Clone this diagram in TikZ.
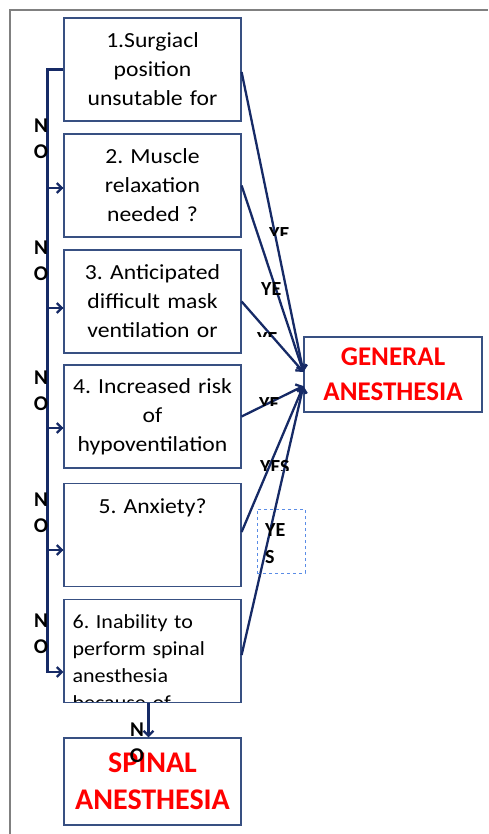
\documentclass[tikz,border=0pt]{standalone}
\usepackage{fontspec}
\setmainfont{Carlito}
\newfontfamily\boxfont[FakeStretch=1.1]{Carlito}
\usetikzlibrary{arrows.meta}

\definecolor{boxline}{RGB}{56,80,130}
\definecolor{linknavy}{RGB}{22,42,102}
\definecolor{framegray}{RGB}{128,128,128}
\definecolor{tagblue}{RGB}{90,140,230}

\tikzset{
    nolink/.style={to path={-- ++(-16,0) |- (\tikztotarget)}},
    notag/.style={font=\bfseries\fontsize{21}{26}\selectfont,align=center,inner sep=0pt},
    yestag/.style={font=\bfseries\fontsize{20}{27}\selectfont,align=left,inner sep=0pt,anchor=north west},
    >={Straight Barb[length=5pt,width=10pt]}
}
\frenchspacing

\begin{document}
\begin{tikzpicture}[x=1pt,y=-1pt]
    \useasboundingbox (0,0) rectangle (488,834);
    \draw[framegray,line width=1.3pt] (10,834) -- (10,10) -- (488,10);

        \begin{scope}[every node/.style={draw=boxline,line width=1.2pt,minimum width=177pt,minimum height=103pt,text width=170pt,align=center,inner sep=0pt,font=\boxfont\fontsize{21.5}{29}\selectfont}]
            \node (1) at (152.5,69.5) {1.Surgiacl\\position\\unsutable for};
            \node (2) at (152.5,185.5) {2. Muscle\\relaxation\\needed ?};
            \node (3) at (152.5,301.5) {3. Anticipated\\difficult mask\\ventilation or};
            \node (4) at (152.5,416.5) {4. Increased risk\\of\\hypoventilation};
            \node (5) at (152.5,535) {5. Anxiety?\\\mbox{}\\\mbox{}};
            \node (6) at (152.5,651) {};
            \node (sa) [minimum height=87pt,text=red,font=\bfseries\fontsize{30}{37}\selectfont] at (152.5,781.5) {SPINAL\\ANESTHESIA};
            \node (ga) [minimum width=178pt,minimum height=75pt,text width=170pt,text=red,font=\bfseries\fontsize{27}{35}\selectfont] at (393,374.5) {GENERAL\\ANESTHESIA};
        \end{scope}

        % text of box 6 runs past its bottom edge
        \begin{scope}
            \clip ([yshift=1.5pt]6.south west) rectangle (6.north east);
            \node (6t) [anchor=base west,inner sep=0pt,text width=160pt,align=left,font=\boxfont\fontsize{20}{27}\selectfont] at ([xshift=9pt,yshift=-30pt]6.north west) {6. Inability to\\perform spinal\\anesthesia\\because of};
        \end{scope}

        \begin{scope}[every edge/.style={draw=linknavy,line width=2.3pt}]
            \path [->] (1.west) edge[nolink] ([yshift=-2.5pt]2.west);
            \path [->] ([yshift=-2.5pt]2.west) edge[nolink] ([yshift=-6.5pt]3.west);
            \path [->] ([yshift=-6.5pt]3.west) edge[nolink] ([yshift=-11.5pt]4.west);
            \path [->] ([yshift=-11.5pt]4.west) edge[nolink] ([yshift=-15pt]5.west);
            \path [->] ([yshift=-15pt]5.west) edge[nolink] ([yshift=-21pt]6.west);
            \path [->] ([xshift=-4pt]6.south) edge ([xshift=-4pt]sa.north);
            \path [->] ([yshift=-2.5pt]1.east) edge ([yshift=2.5pt]ga.west);
            \path [->] (2.east) edge ([yshift=2.5pt]ga.west);
            \path [->] (3.east) edge ([yshift=2.5pt]ga.west);
            \path [->] (4.east) edge ([yshift=-11.5pt]ga.west);
            \path [->] ([yshift=3pt]5.east) edge ([yshift=-11.5pt]ga.west);
            \path [->] ([yshift=-4pt]6.east) edge ([yshift=-11.5pt]ga.west);
        \end{scope}

        % NO labels
        \node (no1) [notag] at (41,139) {N\\O};
        \node (no2) [notag] at (41,261) {N\\O};
        \node (no3) [notag] at (41,391) {N\\O};
        \node (no4) [notag] at (41,512.5) {N\\O};
        \node (no5) [notag] at (41,633.5) {N\\O};
        \node (no6) [notag] at (137,742.5) {N\\O};

        % YES labels, cut off by their text boxes
        \begin{scope}
            \clip (255,215) rectangle (300,235);
            \node (yes1) [yestag] at (269,227) {YE};
        \end{scope}
        \node (yes2) [yestag] at (261,282) {YE};
        \begin{scope}
            \clip (250,320) rectangle (300,336);
            \node (yes3) [yestag] at (257,332) {YE};
        \end{scope}
        \begin{scope}
            \clip (250,385) rectangle (300,405);
            \node (yes4) [yestag] at (259,397) {YE};
        \end{scope}
        \begin{scope}
            \clip (250,450) rectangle (300,470);
            \node (yes5) [yestag] at (260,460) {YES};
        \end{scope}
        \node (tag) [draw=tagblue,dashed,line width=0.9pt,minimum width=48pt,minimum height=64pt] at (281,541) {};
        \node (yes6) [yestag] at (265,523) {YE\\S};

\end{tikzpicture}
\end{document}
